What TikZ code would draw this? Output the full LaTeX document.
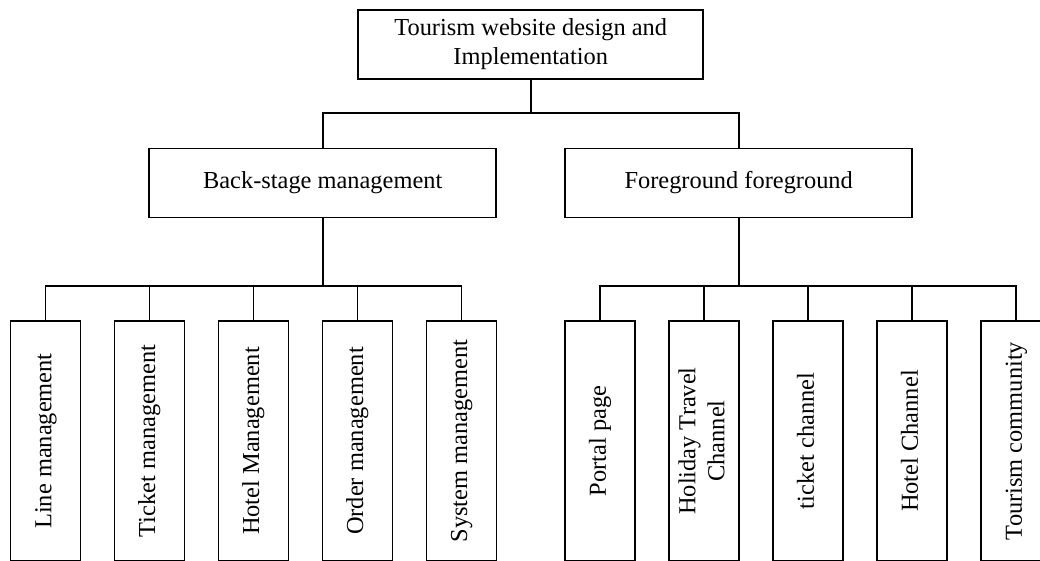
\documentclass[tikz,border=0pt]{standalone}
\usepackage{fontspec}
\setmainfont{Liberation Serif}
\begin{document}
\begin{tikzpicture}[x=1pt,y=-1pt,
  box/.style={draw, line width=1.6pt, inner sep=0pt, align=center,
    font=\fontsize{24.4}{29}\selectfont},
  topbox/.style={box, minimum width=345pt, minimum height=69pt},
  midbox/.style={box, minimum width=347pt, minimum height=69pt},
  leaf/.style={box, minimum width=70pt, minimum height=240pt},
  conn/.style={line width=1.6pt}]
\clip (0,0) rectangle (1040,560);
\useasboundingbox (0,0) rectangle (1040,560);
\newcommand{\vt}[1]{\rotatebox{90}{\begin{tabular}{@{}c@{}}#1\end{tabular}}}

\node[topbox] (top) at (530.7,44.5) {Tourism website design and\\Implementation};
\node[midbox] (back) at (322.7,182.8) {Back-stage management};
\node[midbox] (fore) at (738.7,182.8) {Foreground foreground};

\node[leaf] (l1) at (45.5,441) {\vt{Line management}};
\node[leaf] (l2) at (149.3,441) {\vt{Ticket management}};
\node[leaf] (l3) at (253.3,441) {\vt{Hotel Management}};
\node[leaf] (l4) at (357.3,441) {\vt{Order management}};
\node[leaf] (l5) at (461.3,441) {\vt{System management}};

\node[leaf] (r1) at (600,441) {\vt{Portal page}};
\node[leaf] (r2) at (704,441) {\vt{Holiday Travel\\Channel}};
\node[leaf] (r3) at (808,441) {\vt{ticket channel}};
\node[leaf] (r4) at (912,441) {\vt{Hotel Channel}};
\node[leaf] (r5) at (1016,441) {\vt{Tourism community}};

\coordinate (bus1) at (530.7,113);
\coordinate (busL) at (322.7,286);
\coordinate (busR) at (738.7,286);

\draw[conn] (top.south) -- (bus1);
\draw[conn] (back.north) |- (bus1);
\draw[conn] (fore.north) |- (bus1);

\draw[conn] (back.south) -- (busL);
\foreach \n in {l1,l2,l3,l4,l5} \draw[conn] (\n.north) |- (busL);
\draw[conn] (fore.south) -- (busR);
\foreach \n in {r1,r2,r3,r4,r5} \draw[conn] (\n.north) |- (busR);
\end{tikzpicture}
\end{document}
